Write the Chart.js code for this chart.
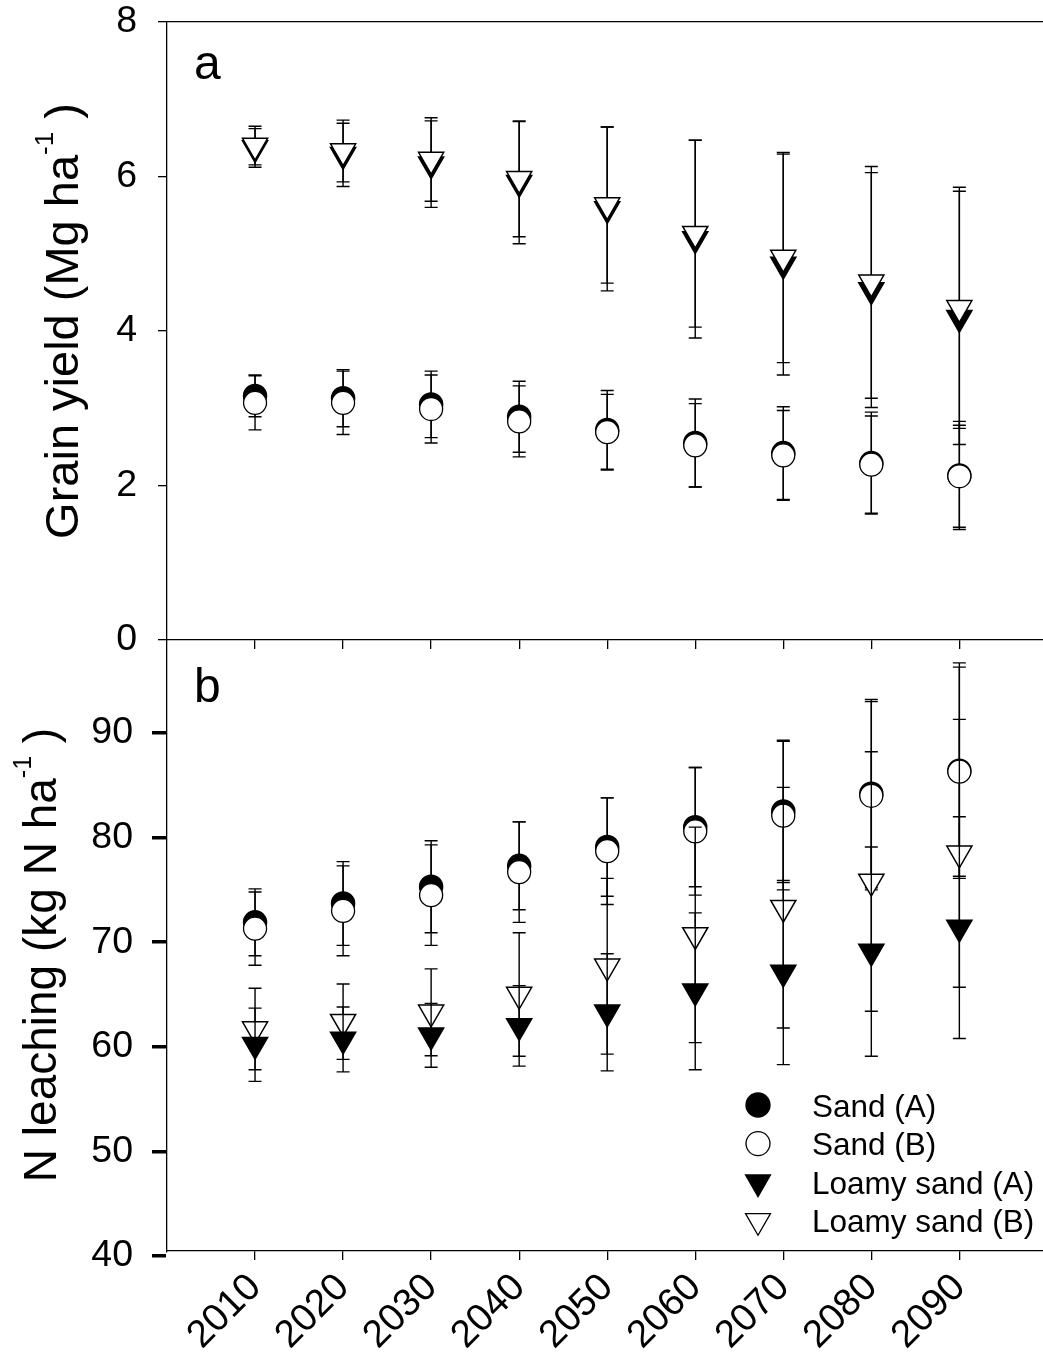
<!DOCTYPE html>
<html>
<head>
<meta charset="utf-8">
<script src="https://cdn.jsdelivr.net/npm/chart.js@4.4.1/dist/chart.umd.min.js"></script>
<style>
  body { margin: 0; background: #fff; }
  #wrap { position: relative; width: 1043px; height: 1356px; overflow: hidden; }
  canvas { position: absolute; left: 0; }
  #yieldChart { top: 0; z-index: 2; }
  #leachChart { top: 640px; z-index: 1; }
</style>
</head>
<body>
<div id="wrap">
  <canvas id="yieldChart" width="1043" height="665"></canvas>
  <canvas id="leachChart" width="1043" height="716"></canvas>
</div>
<script>
'use strict';

const years = [2010, 2020, 2030, 2040, 2050, 2060, 2070, 2080, 2090];
const yieldTicks = [0, 2, 4, 6, 8];
const leachTicks = [40, 50, 60, 70, 80, 90];

// grain yield, Mg ha-1 (mean and error)
const yieldSandA = [3.16, 3.13, 3.05, 2.89, 2.72, 2.55, 2.42, 2.29, 2.13];
const yieldSandAErr = [0.27, 0.37, 0.43, 0.46, 0.51, 0.57, 0.60, 0.66, 0.70];
const yieldSandB = [3.07, 3.07, 2.99, 2.83, 2.69, 2.52, 2.39, 2.27, 2.12];
const yieldSandBErr = [0.35, 0.41, 0.44, 0.46, 0.49, 0.54, 0.58, 0.63, 0.66];
const yieldLoamyA = [6.37, 6.28, 6.16, 5.92, 5.58, 5.19, 4.86, 4.53, 4.17];
const yieldLoamyAErr = [0.25, 0.41, 0.56, 0.79, 1.06, 1.28, 1.43, 1.52, 1.64];
const yieldLoamyB = [6.40, 6.33, 6.22, 5.97, 5.63, 5.26, 4.95, 4.63, 4.30];
const yieldLoamyBErr = [0.25, 0.40, 0.54, 0.75, 1.01, 1.21, 1.36, 1.50, 1.56];

// N leaching, kg N ha-1 (mean and error)
const leachSandA = [71.9, 73.7, 75.3, 77.3, 79.1, 81.0, 82.5, 84.2, 86.4];
const leachSandAErr = [3.2, 4.0, 4.4, 4.2, 4.7, 5.7, 6.8, 9.0, 10.3];
const leachSandB = [71.3, 73.0, 74.5, 76.7, 78.7, 80.6, 82.1, 84.0, 86.3];
const leachSandBErr = [3.5, 4.3, 4.8, 4.8, 5.1, 6.1, 7.1, 9.0, 10.0];
const leachLoamyA = [60.2, 60.7, 61.1, 62.0, 63.3, 65.3, 67.1, 69.1, 71.4];
const leachLoamyAErr = [3.5, 3.1, 3.05, 3.85, 5.6, 7.5, 8.8, 10.0, 10.6];
const leachLoamyB = [61.7, 62.4, 63.3, 65.0, 67.7, 70.7, 73.3, 75.8, 78.5];
const leachLoamyBErr = [3.9, 3.6, 4.15, 5.9, 8.4, 10.3, 11.5, 12.4, 12.8];

const seriesNames = ['Sand (A)', 'Sand (B)', 'Loamy sand (A)', 'Loamy sand (B)'];

const FONT = "'Liberation Sans', Arial, sans-serif";
Chart.defaults.font.family = FONT;
Chart.defaults.color = '#000';

const filledCircle = { pointStyle: 'circle', pointRadius: 11.5, pointBackgroundColor: '#000', pointBorderColor: '#000', pointBorderWidth: 1.5 };
const openCircle = { pointStyle: 'circle', pointRadius: 11.5, pointBackgroundColor: '#fff', pointBorderColor: '#000', pointBorderWidth: 1.3 };
const filledTri = { pointStyle: 'triangle', pointRotation: 180, pointRadius: 14.5, pointBackgroundColor: '#000', pointBorderColor: '#000', pointBorderWidth: 1.5 };
const openTri = { pointStyle: 'triangle', pointRotation: 180, pointRadius: 14.5, pointBackgroundColor: '#fff', pointBorderColor: '#000', pointBorderWidth: 1.5 };

function series(label, values, errors, style, order) {
  return Object.assign({
    label: label,
    data: years.map((yr, i) => ({ x: yr, y: values[i] })),
    errors: errors,
    order: order,
  }, style);
}

// error bars drawn just before each dataset's symbols
const errorBars = {
  id: 'errorBars',
  beforeDatasetDraw(chart, args) {
    const ds = chart.data.datasets[args.index];
    if (!ds.errors) return;
    const ctx = chart.ctx;
    const xs = chart.scales.x;
    const ys = chart.scales.y;
    ctx.save();
    ctx.strokeStyle = '#000';
    ctx.lineWidth = 1.4;
    ds.data.forEach((p, i) => {
      const px = xs.getPixelForValue(p.x);
      const top = ys.getPixelForValue(p.y + ds.errors[i]);
      const bot = ys.getPixelForValue(p.y - ds.errors[i]);
      ctx.beginPath();
      ctx.moveTo(px, top);
      ctx.lineTo(px, bot);
      ctx.moveTo(px - 6.5, top);
      ctx.lineTo(px + 6.5, top);
      ctx.moveTo(px - 6.5, bot);
      ctx.lineTo(px + 6.5, bot);
      ctx.stroke();
    });
    ctx.restore();
  }
};

function drawTitle(ctx, cx, cy, main, sup, tail, size) {
  const f1 = size + 'px ' + FONT;
  const f2 = Math.round(size * 0.55) + 'px ' + FONT;
  ctx.save();
  ctx.translate(cx, cy);
  ctx.rotate(-Math.PI / 2);
  ctx.fillStyle = '#000';
  ctx.textBaseline = 'alphabetic';
  ctx.textAlign = 'left';
  ctx.font = f1;
  const w1 = ctx.measureText(main).width;
  const w3 = ctx.measureText(tail).width;
  ctx.font = f2;
  const w2 = ctx.measureText(sup).width;
  let x = -(w1 + w2 + w3) / 2;
  ctx.font = f1;
  ctx.fillText(main, x, 0);
  x += w1;
  ctx.font = f2;
  ctx.fillText(sup, x, -size * 0.54);
  x += w2;
  ctx.font = f1;
  ctx.fillText(tail, x, 0);
  ctx.restore();
}

const panelText = {
  id: 'panelText',
  afterDraw(chart, args, opts) {
    const ctx = chart.ctx;
    ctx.save();
    ctx.fillStyle = '#000';
    ctx.font = '48px ' + FONT;
    ctx.textBaseline = 'alphabetic';
    ctx.fillText(opts.letter, 194, opts.letterY);
    ctx.restore();
    drawTitle(ctx, opts.titleX, opts.titleY, opts.title, '-1', ' )', opts.titleSize);
  }
};

const markerLegend = {
  id: 'markerLegend',
  afterDraw(chart) {
    const ctx = chart.ctx;
    const styles = [filledCircle, openCircle, filledTri, openTri];
    ctx.save();
    seriesNames.forEach((name, i) => {
      const st = styles[i];
      const cy = 465 + i * 38.6;
      const cx = 758;
      ctx.fillStyle = st.pointBackgroundColor;
      ctx.strokeStyle = '#000';
      ctx.lineWidth = 1.3;
      ctx.beginPath();
      if (st.pointStyle === 'circle') {
        ctx.arc(cx, cy, 12, 0, Math.PI * 2);
      } else {
        const r = 14.4;
        ctx.moveTo(cx, cy + r);
        ctx.lineTo(cx - r * 0.866, cy - r / 2);
        ctx.lineTo(cx + r * 0.866, cy - r / 2);
        ctx.closePath();
      }
      ctx.fill();
      ctx.stroke();
      ctx.fillStyle = '#000';
      ctx.font = '31.5px ' + FONT;
      ctx.textBaseline = 'alphabetic';
      ctx.fillText(name, 812, cy + 11.5);
    });
    ctx.restore();
  }
};

function fixSize(w, h) {
  return function (scale) {
    if (w !== null) scale.width = w;
    if (h !== null) scale.height = h;
    scale.paddingTop = 0;
    scale.paddingBottom = 0;
    scale.paddingLeft = 0;
    scale.paddingRight = 0;
  };
}

const yearAxis = (showLabels, height) => ({
  type: 'linear',
  position: 'bottom',
  min: 2000,
  max: 2099.5,
  afterBuildTicks: (scale) => { scale.ticks = years.map(v => ({ value: v })); },
  afterFit: fixSize(null, height),
  grid: { drawOnChartArea: false, tickLength: 9, color: '#000', lineWidth: 1.3 },
  border: { color: '#000', width: 1.3 },
  ticks: {
    display: showLabels,
    minRotation: 45,
    maxRotation: 45,
    autoSkip: false,
    padding: 5,
    font: { size: 38.5 },
    callback: (v) => String(v),
  },
});

new Chart(document.getElementById('yieldChart'), {
  type: 'scatter',
  data: {
    datasets: [
      series(seriesNames[0], yieldSandA, yieldSandAErr, filledCircle, 4),
      series(seriesNames[1], yieldSandB, yieldSandBErr, openCircle, 3),
      series(seriesNames[2], yieldLoamyA, yieldLoamyAErr, filledTri, 2),
      series(seriesNames[3], yieldLoamyB, yieldLoamyBErr, openTri, 1),
    ],
  },
  options: {
    responsive: false,
    animation: false,
    events: [],
    layout: { autoPadding: false, padding: { top: 22, left: 0, right: 0, bottom: 0 } },
    plugins: {
      legend: { display: false },
      tooltip: { enabled: false },
      panelText: { letter: 'a', letterY: 79, title: 'Grain yield (Mg ha', titleX: 78, titleY: 321, titleSize: 47 },
    },
    scales: {
      x: yearAxis(false, 25),
      x2: {
        type: 'linear',
        position: 'top',
        afterFit: fixSize(null, 0),
        grid: { display: false },
        ticks: { display: false },
        border: { color: '#000', width: 1.3 },
      },
      y: {
        min: 0,
        max: 8,
        afterBuildTicks: (scale) => { scale.ticks = yieldTicks.map(v => ({ value: v })); },
        afterFit: fixSize(167, null),
        grid: { drawOnChartArea: false, tickLength: 9, color: '#000', lineWidth: 1.3 },
        border: { color: '#000', width: 1.3 },
        ticks: { padding: 21, font: { size: 37.5 } },
      },
    },
  },
  plugins: [errorBars, panelText],
});

new Chart(document.getElementById('leachChart'), {
  type: 'scatter',
  data: {
    datasets: [
      series(seriesNames[0], leachSandA, leachSandAErr, filledCircle, 4),
      series(seriesNames[1], leachSandB, leachSandBErr, openCircle, 3),
      series(seriesNames[2], leachLoamyA, leachLoamyAErr, filledTri, 1),
      series(seriesNames[3], leachLoamyB, leachLoamyBErr, openTri, 2),
    ],
  },
  options: {
    responsive: false,
    animation: false,
    events: [],
    layout: { autoPadding: false, padding: 0 },
    plugins: {
      legend: { display: false },
      tooltip: { enabled: false },
      panelText: { letter: 'b', letterY: 62, title: 'N leaching (kg N ha', titleX: 56, titleY: 315, titleSize: 46 },
    },
    scales: {
      x: yearAxis(true, 105),
      y: {
        min: 40.48,
        max: 98.89,
        afterBuildTicks: (scale) => { scale.ticks = leachTicks.map(v => ({ value: v })); },
        afterFit: fixSize(167, null),
        grid: { drawOnChartArea: false, tickLength: 15, color: '#000', lineWidth: 3.5 },
        border: { color: '#000', width: 1.3 },
        ticks: { padding: 19, font: { size: 37.5 } },
      },
    },
  },
  plugins: [errorBars, panelText, markerLegend],
});
</script>
</body>
</html>
